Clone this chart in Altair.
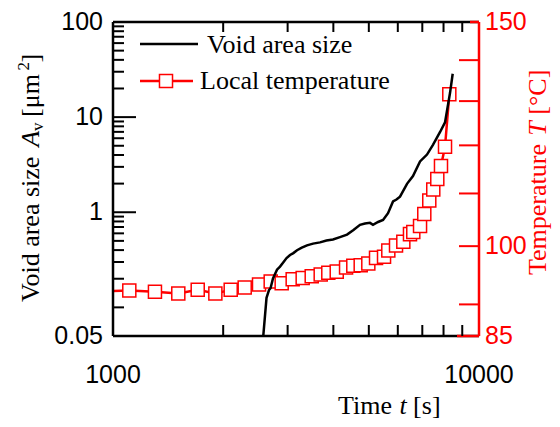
import altair as alt
import pandas as pd

# ---- data ----
void_t = [2561, 2627, 2668, 2694, 2736, 2806, 2860, 2914, 2980, 3046, 3110, 3183, 3280, 3389,
          3520, 3678, 3830, 3991, 4170, 4359, 4540, 4730, 4880, 5037, 5133, 5300, 5468, 5642,
          5822, 5950, 6084, 6358, 6601, 6901, 7210, 7485, 7822, 8075, 8333, 8475]
void_A = [0.04, 0.126, 0.152, 0.159, 0.201, 0.249, 0.268, 0.294, 0.330, 0.355, 0.372, 0.399, 0.425, 0.449,
          0.468, 0.482, 0.505, 0.518, 0.548, 0.582, 0.650, 0.738, 0.760, 0.773, 0.738, 0.790, 0.830, 0.979,
          1.30, 1.36, 1.46, 1.99, 2.40, 3.42, 4.04, 5.11, 6.94, 8.79, 17.9, 28.6]

temp_t = [1000, 1108, 1302, 1508, 1704, 1904, 2097, 2290, 2506, 2697, 2890, 3097, 3298, 3491,
          3694, 3875, 4086, 4333, 4535, 4751, 4984, 5232, 5502, 5652, 5933, 6212, 6478, 6614,
          6901, 7088, 7314, 7500, 7692, 7873, 8075, 8296]
temp_T = [92.2, 92.3, 92.1, 91.8, 92.4, 91.8, 92.4, 92.8, 93.3, 93.8, 93.5, 94.2, 94.4, 94.7,
          95.0, 95.3, 95.5, 96.2, 96.5, 96.6, 96.9, 97.9, 98.1, 99.2, 100.1, 100.8, 102.2, 102.6,
          103.7, 106.0, 108.6, 110.8, 112.9, 115.6, 119.7, 131.6]

# axis ticks and labels
x_label_vals = [1000, 10000]
x_label_text = ["1000", "10000"]
x_minor = [2000, 3000, 4000, 5000, 6000, 7000, 8000, 9000]
left_label_vals = [0.05, 1, 10, 100]
left_label_text = ["0.05", "1", "10", "100"]
left_major = [1, 10]
left_minor = [0.1, 0.2, 0.3, 0.4, 0.5, 0.6, 0.7, 0.8, 0.9, 2, 3, 4, 5, 6, 7, 8, 9,
              20, 30, 40, 50, 60, 70, 80, 90]
right_label_vals = [85, 100, 150]
right_label_text = ["85", "100", "150"]
right_minor = [90, 100, 110, 120, 130, 140]

TOP = 8  # plot top sits 8px lower than the reference's so the top labels stay on the page
W, H = 366, 322 - TOP
SANS = "Liberation Sans"
SERIF = "Liberation Serif"
RED = "#ff0000"

void_df = pd.DataFrame({"t": void_t, "A": void_A})
temp_df = pd.DataFrame({"t": temp_t, "T": temp_T})
one = alt.Data(values=[{}])

x_scale = alt.Scale(type="log", domain=[1000, 10000], nice=False)
a_scale = alt.Scale(type="log", domain=[0.05, 100], nice=False)
t_scale = alt.Scale(type="log", domain=[85, 150], nice=False)

def X(field="t"):
    return alt.X(f"{field}:Q", scale=x_scale, axis=None)

void_line = alt.Chart(void_df).mark_line(color="black", strokeWidth=2.5, clip=True).encode(
    x=X(), y=alt.Y("A:Q", scale=a_scale, axis=None), order="t:Q")
temp_line = alt.Chart(temp_df).mark_line(color=RED, strokeWidth=2.5, clip=True).encode(
    x=X(), y=alt.Y("T:Q", scale=t_scale, axis=None))
temp_pts = alt.Chart(temp_df).transform_filter("datum.t > 1000").mark_point(
    shape="square", size=170, filled=True, fill="white", stroke=RED, strokeWidth=1.5, opacity=1
).encode(x=X(), y=alt.Y("T:Q", scale=t_scale, axis=None))

# frame lines
def rule(x0, x1, y0, y1, color="black", w=2.5):
    return alt.Chart(one).mark_rule(color=color, strokeWidth=w).encode(
        x=alt.value(x0), x2=alt.value(x1), y=alt.value(y0), y2=alt.value(y1))

frame = [
    rule(0, W, 0, 0), rule(0, W, H, H), rule(0, 0, 0, H),
    rule(W, W, 0, H, RED), rule(W - 22, W, H, H, RED), rule(W - 9, W, 0, 0, RED),
]

# inward ticks through the scales
def vticks(vals, field, scale, x0, x1, color):
    return alt.Chart(pd.DataFrame({field: vals})).mark_rule(color=color, strokeWidth=2).encode(
        y=alt.Y(f"{field}:Q", scale=scale, axis=None), x=alt.value(x0), x2=alt.value(x1))

def hticks(vals, y0, y1):
    return alt.Chart(pd.DataFrame({"t": vals})).mark_rule(color="black", strokeWidth=2).encode(
        x=X(), y=alt.value(y0), y2=alt.value(y1))

ticks = [
    vticks(left_minor, "A", a_scale, 0, 11, "black"),
    vticks(left_major, "A", a_scale, 0, 23, "black"),
    vticks(right_minor, "T", t_scale, W, W - 20, RED),
    hticks(x_minor, H, H - 11),
    hticks(x_minor, 0, 10),
]

# tick labels through the scales
x_lab = alt.Chart(pd.DataFrame({"t": x_label_vals, "s": x_label_text})).mark_text(
    font=SANS, fontSize=25, align="center", baseline="alphabetic", color="black").encode(
    x=X(), y=alt.value(H + 47), text="s:N")
left_lab = alt.Chart(pd.DataFrame({"A": left_label_vals, "s": left_label_text})).mark_text(
    font=SANS, fontSize=25, align="right", baseline="middle", color="black").encode(
    y=alt.Y("A:Q", scale=a_scale, axis=None), x=alt.value(-10), text="s:N")
right_lab = alt.Chart(pd.DataFrame({"T": right_label_vals, "s": right_label_text})).mark_text(
    font=SANS, fontSize=25, align="left", baseline="middle", color=RED).encode(
    y=alt.Y("T:Q", scale=t_scale, axis=None), x=alt.value(W + 6), text="s:N")

# legend (drawn inside the plot)
leg = [
    rule(27, 85, 30 - TOP, 30 - TOP),
    alt.Chart(one).mark_text(font=SERIF, fontSize=26, align="left", baseline="middle").encode(
        x=alt.value(94), y=alt.value(31 - TOP), text=alt.value("Void area size")),
    rule(27, 80, 67 - TOP, 67 - TOP, RED),
    alt.Chart(one).mark_point(shape="square", size=170, filled=True, fill="white",
                              stroke=RED, strokeWidth=1.5, opacity=1).encode(
        x=alt.value(53), y=alt.value(67 - TOP)),
    alt.Chart(one).mark_text(font=SERIF, fontSize=26, align="left", baseline="middle").encode(
        x=alt.value(87), y=alt.value(67 - TOP), text=alt.value("Local temperature")),
]

def txt(s, x, y, size=26, style="normal", color="black", angle=0):
    return alt.Chart(one).mark_text(font=SERIF, fontSize=size, fontStyle=style, color=color,
                                    align="left", baseline="alphabetic", angle=angle).encode(
        x=alt.value(x), y=alt.value(y - TOP), text=alt.value(s))

# x title: "Time t [s]"
xt = [txt("Time", 225, 400), txt("t", 286.4, 400, style="italic"), txt("[s]", 300.1, 400)]

# left title: "Void area size A_v [μm²]" (rotated)
lx = -74
lt = [
    txt("Void area size", lx, 288, angle=270),
    txt("A", lx, 132.8, style="italic", angle=270),
    txt("v", lx + 4, 116.9, size=17, angle=270),
    txt("[μm", lx, 102.9, angle=270),
    txt("2", lx - 10, 56.5, size=17, angle=270),
    txt("]", lx, 48.5, angle=270),
]

# right title: "Temperature T [°C]" (rotated, red)
rx = 433
rt = [
    txt("Temperature", rx, 261, color=RED, angle=270),
    txt("T", rx, 121.7, style="italic", color=RED, angle=270),
    txt("[°C]", rx, 100.7, color=RED, angle=270),
]

chart = alt.layer(
    temp_line, temp_pts, void_line, *frame, *ticks, x_lab, left_lab, right_lab,
    *leg, *xt, *lt, *rt,
).resolve_scale(y="independent").properties(
    width=W, height=H,
    autosize=alt.AutoSizeParams(type="none"),
    padding={"left": 105, "top": 6 + TOP, "right": 73, "bottom": 83},
).configure_view(stroke=None).configure(background="white")

chart.save("out.html", embed_options={"renderer": "svg", "actions": False})
